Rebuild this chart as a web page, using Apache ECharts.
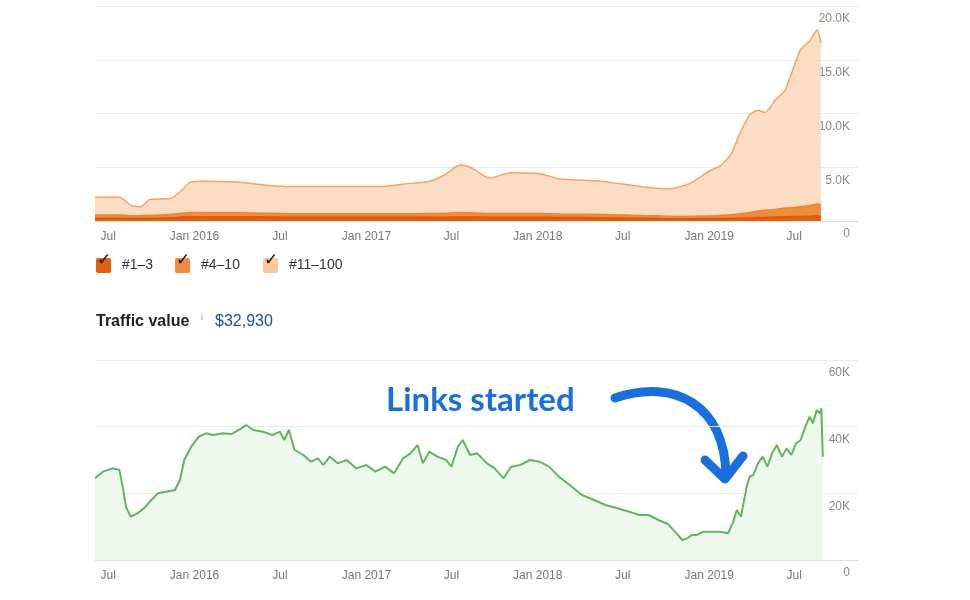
<!doctype html>
<html>
<head>
  <meta charset="UTF-8" />
  <title>Traffic</title>
  <script src="https://cdn.jsdelivr.net/npm/echarts@6/dist/echarts.min.js"></script>
  <style>
    html, body { margin: 0; padding: 0; background: #fff; }
    #chart { width: 970px; height: 600px; }
  </style>
</head>
<body>
  <div id="chart"></div>
  <script>
    // top chart: organic keywords by position
    const topDates = ['2015-06-03','2015-07-26','2015-08-17','2015-09-07','2015-09-28','2015-11-10','2015-12-01','2015-12-22','2016-01-13','2016-04-07','2016-06-10','2016-07-22','2016-10-15','2017-01-30','2017-04-04','2017-05-17','2017-06-17','2017-07-19','2017-08-10','2017-09-21','2017-11-03','2018-01-06','2018-02-17','2018-05-14','2018-08-28','2018-10-10','2018-11-21','2019-01-03','2019-01-24','2019-02-15','2019-03-08','2019-03-29','2019-04-15','2019-04-30','2019-05-21','2019-06-12','2019-07-14','2019-08-04','2019-08-19','2019-08-27'];
    const pos1to3 = [250,250,250,250,250,300,350,400,400,400,380,350,350,350,350,350,350,380,380,350,350,350,330,300,250,220,220,230,240,250,270,300,320,340,370,400,420,450,480,450];
    const pos4to10 = [300,300,250,250,280,300,350,380,380,370,350,330,330,330,330,340,360,400,380,350,350,340,330,300,250,220,220,250,280,320,400,500,600,650,700,800,900,1000,1100,1050];
    const pos11to100 = [1650,1650,1000,800,1470,1500,2000,2820,2920,2830,2570,2520,2520,2520,2820,3010,3590,4420,4240,3300,3800,3710,3240,3100,2600,2560,3060,4220,4580,5530,7530,9100,9380,9110,10130,11000,14580,15350,16220,15100];

    // bottom chart: traffic value
    const valueDates = ['2015-06-03','2015-06-20','2015-07-10','2015-07-25','2015-08-01','2015-08-08','2015-08-18','2015-09-01','2015-09-15','2015-10-01','2015-10-15','2015-11-01','2015-11-20','2015-12-01','2015-12-10','2015-12-25','2016-01-10','2016-01-25','2016-02-10','2016-03-01','2016-03-20','2016-04-10','2016-04-20','2016-05-05','2016-05-25','2016-06-15','2016-07-01','2016-07-10','2016-07-20','2016-08-01','2016-08-20','2016-09-05','2016-09-20','2016-10-01','2016-10-15','2016-11-01','2016-11-20','2016-12-10','2017-01-01','2017-01-20','2017-02-10','2017-03-01','2017-03-20','2017-04-05','2017-04-20','2017-05-01','2017-05-15','2017-06-01','2017-06-20','2017-07-01','2017-07-15','2017-07-25','2017-08-10','2017-08-25','2017-09-15','2017-10-01','2017-10-20','2017-11-05','2017-11-25','2017-12-15','2018-01-05','2018-01-25','2018-02-15','2018-03-10','2018-04-05','2018-05-01','2018-05-25','2018-06-20','2018-07-15','2018-08-05','2018-08-25','2018-09-15','2018-10-05','2018-10-20','2018-11-05','2018-11-15','2018-11-25','2018-12-05','2018-12-20','2019-01-05','2019-01-25','2019-02-10','2019-02-20','2019-03-01','2019-03-10','2019-03-15','2019-03-22','2019-03-28','2019-04-05','2019-04-15','2019-04-25','2019-05-05','2019-05-15','2019-05-25','2019-06-05','2019-06-15','2019-06-25','2019-07-05','2019-07-15','2019-07-25','2019-08-03','2019-08-10','2019-08-18','2019-08-25','2019-08-28','2019-08-31'];
    const trafficValue = [24500,26500,27500,27000,22000,16000,13000,14000,15500,18000,20000,20500,21000,24000,30000,34000,37000,38000,37500,38000,37800,39500,40500,39000,38500,37500,38500,36000,39000,33000,31500,29500,30500,28500,31000,29000,30000,27500,28500,26500,28000,26000,30500,32000,34500,29000,32500,31000,30000,28000,34000,36000,31500,32000,29000,27500,24500,28000,28500,30000,29500,28000,25000,22500,19500,18000,16500,15500,14500,13500,13500,12000,10800,8500,6000,6500,7500,7500,8500,8500,8500,8000,11000,15000,13000,17000,22000,25000,25500,29000,31000,28000,32000,34500,31000,33500,31500,35000,36000,40000,43000,41000,45000,44000,45500,31000];

    const startDay = Date.UTC(2015, 5, 3);
    const endDay = Date.UTC(2019, 10, 14);
    const days = [];
    for (let t = startDay; t <= endDay; t += 86400000) {
      days.push(new Date(t).toISOString().slice(0, 10));
    }
    const isTick = (i, v) => v.endsWith('-01-01') || v.endsWith('-07-01');
    const fmtTick = v => v.slice(5, 7) === '01' ? 'Jan ' + v.slice(0, 4) : 'Jul';
    const pairs = (d, v) => d.map((x, i) => [x, v[i]]);

    const xAxisBase = {
      type: 'category', data: days, boundaryGap: false,
      axisLine: { lineStyle: { color: '#ddd' } },
      axisTick: { show: false },
      axisLabel: { interval: isTick, formatter: fmtTick, color: '#777', fontSize: 12, margin: 10, fontFamily: 'Arial' },
      splitLine: { show: false }
    };
    const yAxisBase = {
      type: 'value', position: 'right', min: 0,
      axisLine: { show: false }, axisTick: { show: false },
      axisLabel: { inside: true, color: '#888', fontSize: 12, verticalAlign: 'top', padding: [7, 0, 0, 0], fontFamily: 'Arial' },
      splitLine: { lineStyle: { color: '#ebebeb' } }
    };
    const orange = ['#e0610c', '#f28b3c', '#fad7b8'];

    const chart = echarts.init(document.getElementById('chart'));
    const checkbox = (x, color, label) => [
      { type: 'rect', left: x, top: 258, shape: { width: 15, height: 15, r: 2 }, style: { fill: color } },
      { type: 'text', left: x + 1, top: 252, style: { text: '✓', fill: '#111', font: 'bold 17px DejaVu Sans' } },
      { type: 'text', left: x + 26, top: 258, style: { text: label, fill: '#333', font: '14px Arial' } }
    ];
    chart.setOption({
      animation: false,
      grid: [
        { left: 95, right: 112, top: 6, height: 215 },
        { left: 95, right: 112, top: 360, height: 200 }
      ],
      xAxis: [
        Object.assign({ gridIndex: 0 }, xAxisBase),
        Object.assign({}, xAxisBase, { gridIndex: 1, axisTick: { show: true, inside: true, length: 5, interval: isTick, lineStyle: { color: '#ccc' } } })
      ],
      yAxis: [
        Object.assign({}, yAxisBase, { gridIndex: 0, max: 20000, interval: 5000,
          axisLabel: Object.assign({}, yAxisBase.axisLabel, { formatter: v => v === 0 ? '0' : (v / 1000).toFixed(1) + 'K' }) }),
        Object.assign({}, yAxisBase, { gridIndex: 1, max: 60000, interval: 20000,
          axisLabel: Object.assign({}, yAxisBase.axisLabel, { formatter: v => v === 0 ? '0' : (v / 1000) + 'K' }) })
      ],
      series: [
        { name: '#1–3', type: 'line', stack: 'kw', xAxisIndex: 0, yAxisIndex: 0, data: pairs(topDates, pos1to3), smooth: 0.2, symbol: 'none',
          lineStyle: { color: '#d9590a', width: 1.5 }, areaStyle: { color: orange[0], opacity: 1 } },
        { name: '#4–10', type: 'line', stack: 'kw', xAxisIndex: 0, yAxisIndex: 0, data: pairs(topDates, pos4to10), smooth: 0.2, symbol: 'none',
          lineStyle: { color: '#ee8536', width: 1.5 }, areaStyle: { color: orange[1], opacity: 1 } },
        { name: '#11–100', type: 'line', stack: 'kw', xAxisIndex: 0, yAxisIndex: 0, data: pairs(topDates, pos11to100), smooth: 0.2, symbol: 'none',
          lineStyle: { color: '#f5a366', width: 1.5 }, areaStyle: { color: orange[2], opacity: 0.85 } },
        { name: 'Traffic value', type: 'line', xAxisIndex: 1, yAxisIndex: 1, data: pairs(valueDates, trafficValue), symbol: 'none',
          lineStyle: { color: '#5cb85c', width: 2 }, areaStyle: { color: '#eef8ec', opacity: 1 } }
      ],
      graphic: [].concat(
        checkbox(96, orange[0], '#1–3'),
        checkbox(175, orange[1], '#4–10'),
        checkbox(263, '#fbc89c', '#11–100'),
        [
          { type: 'text', left: 96, top: 314, style: { text: 'Traffic value', fill: '#222', font: 'bold 16px Arial' } },
          { type: 'text', left: 201, top: 313, style: { text: 'i', fill: '#999', font: '9px Arial' } },
          { type: 'text', left: 215, top: 314, style: { text: '$32,930', fill: '#1d4f9e', font: '16px Arial' } },
          { type: 'text', left: 386, top: 384, style: { text: 'Links started', fill: '#1a6fe0', font: 'bold 33px Lato' } },
          { type: 'bezierCurve', shape: { x1: 615, y1: 398, cpx1: 675, cpy1: 378, cpx2: 725, cpy2: 405, x2: 726, y2: 476 },
            style: { stroke: '#1a6fe0', lineWidth: 9, fill: null, lineCap: 'round' } },
          { type: 'polyline', shape: { points: [[705, 460], [725, 479], [743, 456]] },
            style: { stroke: '#1a6fe0', lineWidth: 9, fill: null, lineCap: 'round', lineJoin: 'round' } }
        ]
      )
    });
  </script>
</body>
</html>
